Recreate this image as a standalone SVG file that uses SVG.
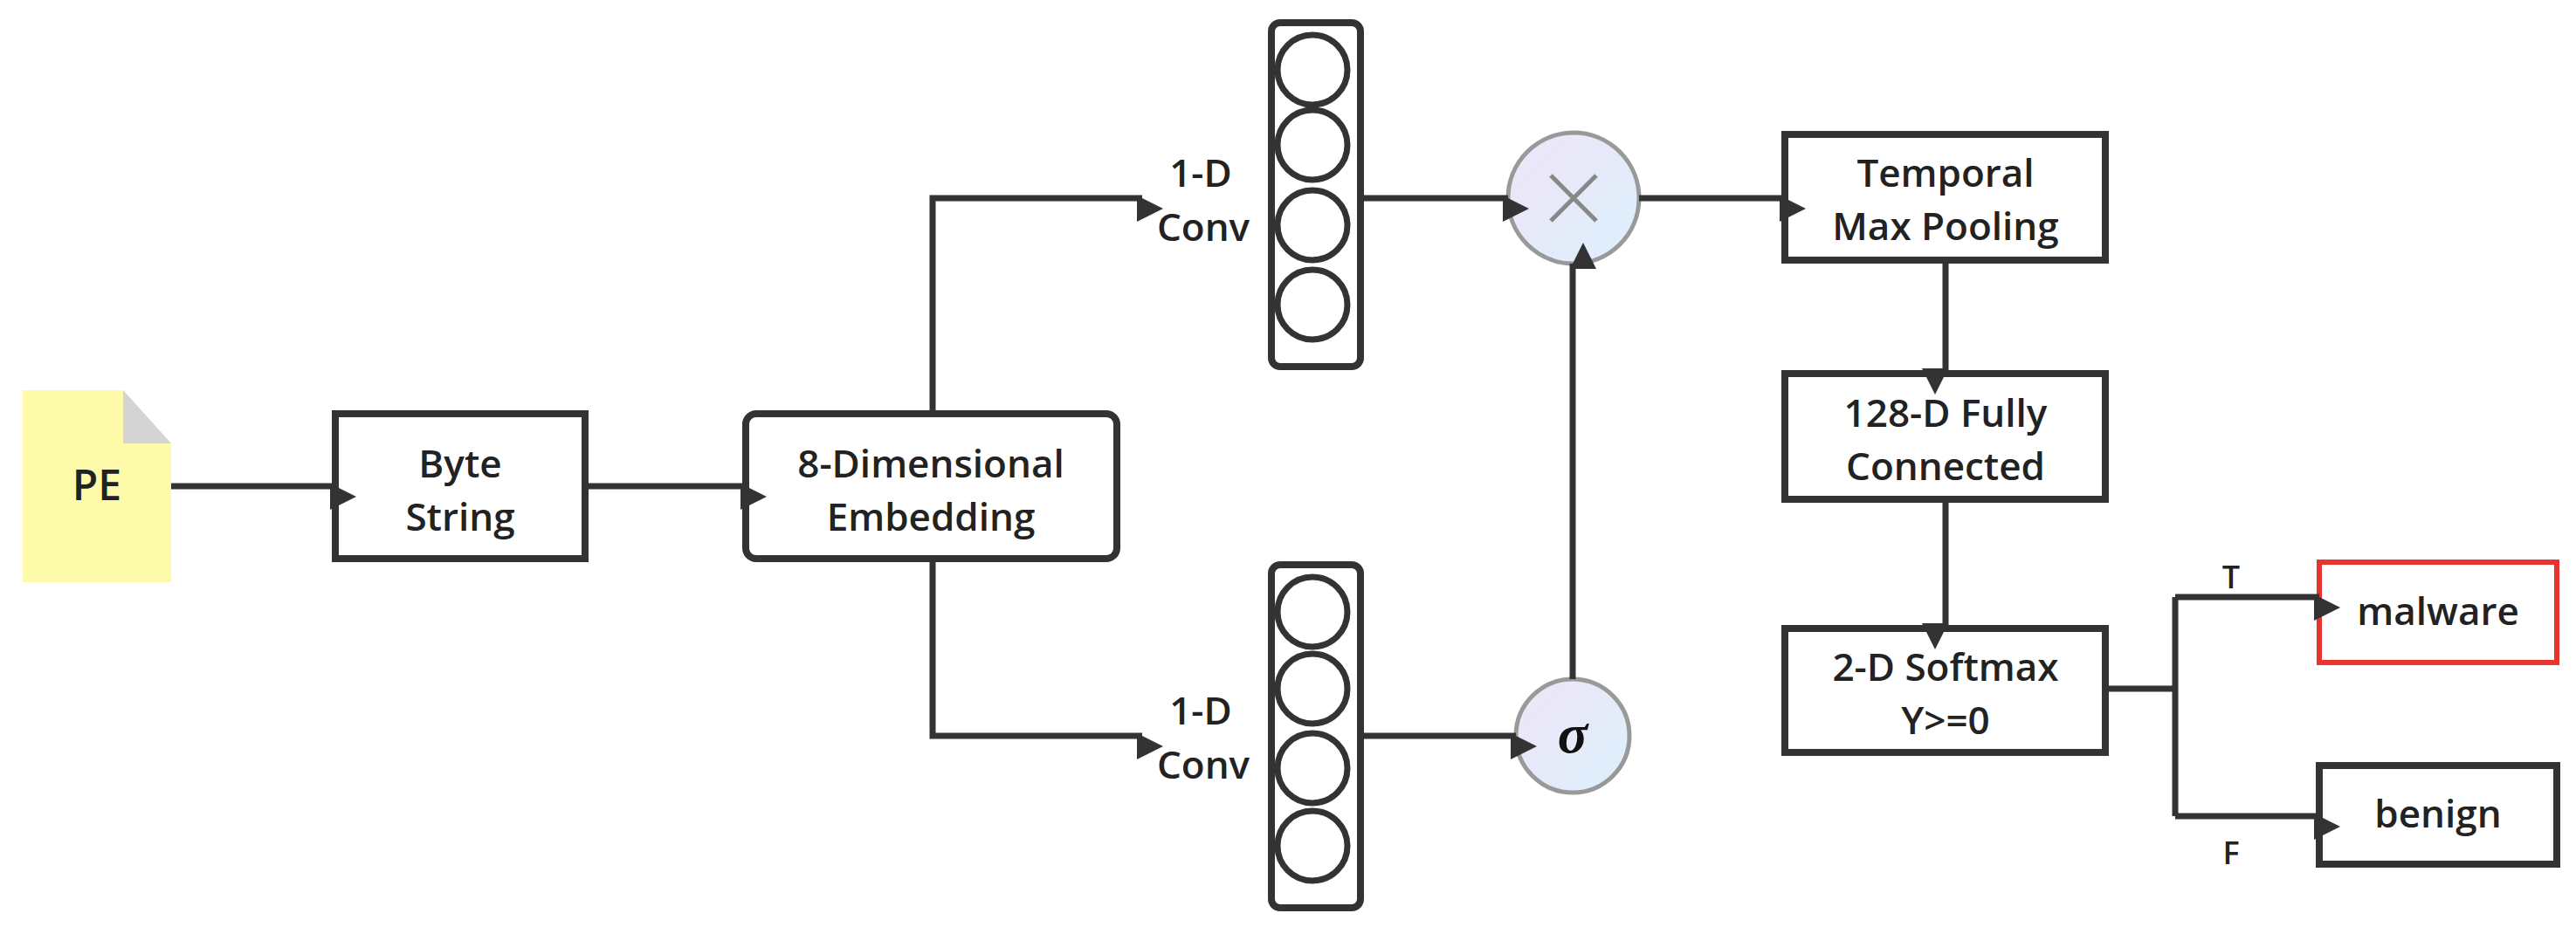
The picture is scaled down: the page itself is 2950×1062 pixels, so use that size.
<svg xmlns="http://www.w3.org/2000/svg" width="2950" height="1062" viewBox="0 0 2950 1062">
<style>
.b{fill:#fff;stroke:#333;stroke-width:8}
.t{font-family:"Open Sans","Noto Sans",sans-serif;font-weight:600;font-size:44px;fill:#222;text-anchor:middle}
.c{fill:none;stroke:#333;stroke-width:7}
.l{fill:none;stroke:#333;stroke-width:7}
.g{fill:url(#gr);stroke:#999;stroke-width:5}
</style>
<defs>
<marker id="a" viewBox="0 0 10 10" refX="10" refY="5" markerWidth="6" markerHeight="6" markerUnits="userSpaceOnUse" orient="auto" style="overflow:visible"><path d="M0,0L10,5L0,10Z" fill="#333" transform="scale(5)"/></marker>
<linearGradient id="gr" x1="0" y1="0" x2="1" y2="1"><stop offset="0" stop-color="#efe4f8"/><stop offset="1" stop-color="#dcf0fb"/></linearGradient>
</defs>
<g id="pe"><path d="M26,447H141L196,508V667H26Z" fill="#fdfbaa"/><path d="M141,447L196,508H141Z" fill="#d4d4d4"/><text class="t" x="111" y="573" style="font-size:48px">PE</text></g>
<g id="byte"><rect class="b" x="384" y="474" width="286" height="166"/><text class="t" x="527" y="547">Byte</text><text class="t" x="527" y="608">String</text></g>
<g id="emb"><rect class="b" x="854" y="474" width="425" height="166" rx="12"/><text class="t" x="1066" y="547">8-Dimensional</text><text class="t" x="1066" y="608">Embedding</text></g>
<g id="conv1"><text class="t" x="1375" y="214">1-D</text><text class="t" x="1378" y="276">Conv</text><rect class="b" x="1456" y="26" width="102" height="394" rx="10"/><circle class="c" cx="1503" cy="80" r="40"/><circle class="c" cx="1503" cy="166" r="40"/><circle class="c" cx="1503" cy="258" r="40"/><circle class="c" cx="1503" cy="349" r="40"/></g>
<g id="conv2"><text class="t" x="1375" y="830">1-D</text><text class="t" x="1378" y="892">Conv</text><rect class="b" x="1456" y="647" width="102" height="393" rx="10"/><circle class="c" cx="1503" cy="701" r="40"/><circle class="c" cx="1503" cy="789" r="40"/><circle class="c" cx="1503" cy="880" r="40"/><circle class="c" cx="1503" cy="969" r="40"/></g>
<g id="mul"><circle class="g" cx="1802" cy="227" r="75"/><path d="M1776,201L1828,253M1828,201L1776,253" stroke="#888" stroke-width="5"/></g>
<g id="sig"><circle class="g" cx="1801" cy="843" r="65"/><text x="1801" y="862" text-anchor="middle" style="font-family:'Liberation Serif',serif;font-style:italic;font-weight:bold;font-size:64px" fill="#111">σ</text></g>
<g id="tmp"><rect class="b" x="2044" y="154" width="367" height="144"/><text class="t" x="2228" y="214">Temporal</text><text class="t" x="2228" y="275">Max Pooling</text></g>
<g id="fc"><rect class="b" x="2044" y="428" width="367" height="144"/><text class="t" x="2228" y="489">128-D Fully</text><text class="t" x="2228" y="550">Connected</text></g>
<g id="sm"><rect class="b" x="2044" y="720" width="367" height="142"/><text class="t" x="2228" y="780">2-D Softmax</text><text class="t" x="2228" y="841">Y&gt;=0</text></g>
<g id="mal"><rect x="2656" y="644" width="272" height="115" fill="#fff" stroke="#e8342e" stroke-width="6"/><text class="t" x="2792" y="716">malware</text></g>
<g id="ben"><rect class="b" x="2656" y="877" width="272" height="113"/><text class="t" x="2792" y="948">benign</text></g>
<g id="connectors">
<path class="l" d="M196,557H384" marker-end="url(#a)"/>
<path class="l" d="M670,557H854" marker-end="url(#a)"/>
<path class="l" d="M1068,474V227H1308" marker-end="url(#a)"/>
<path class="l" d="M1068,640V843H1308" marker-end="url(#a)"/>
<path class="l" d="M1558,227H1727" marker-end="url(#a)"/>
<path class="l" d="M1558,843H1736" marker-end="url(#a)"/>
<path class="l" d="M1801,778V302" marker-end="url(#a)"/>
<path class="l" d="M1877,227H2044" marker-end="url(#a)"/>
<path class="l" d="M2228,298V428" marker-end="url(#a)"/>
<path class="l" d="M2228,572V720" marker-end="url(#a)"/>
<path class="l" d="M2411,789H2491M2491,684V935"/>
<path class="l" d="M2491,684H2656" marker-end="url(#a)"/>
<path class="l" d="M2491,935H2656" marker-end="url(#a)"/>
<text class="t" x="2555" y="674" style="font-size:36px">T</text>
<text class="t" x="2555" y="990" style="font-size:36px">F</text>
</g>
</svg>
